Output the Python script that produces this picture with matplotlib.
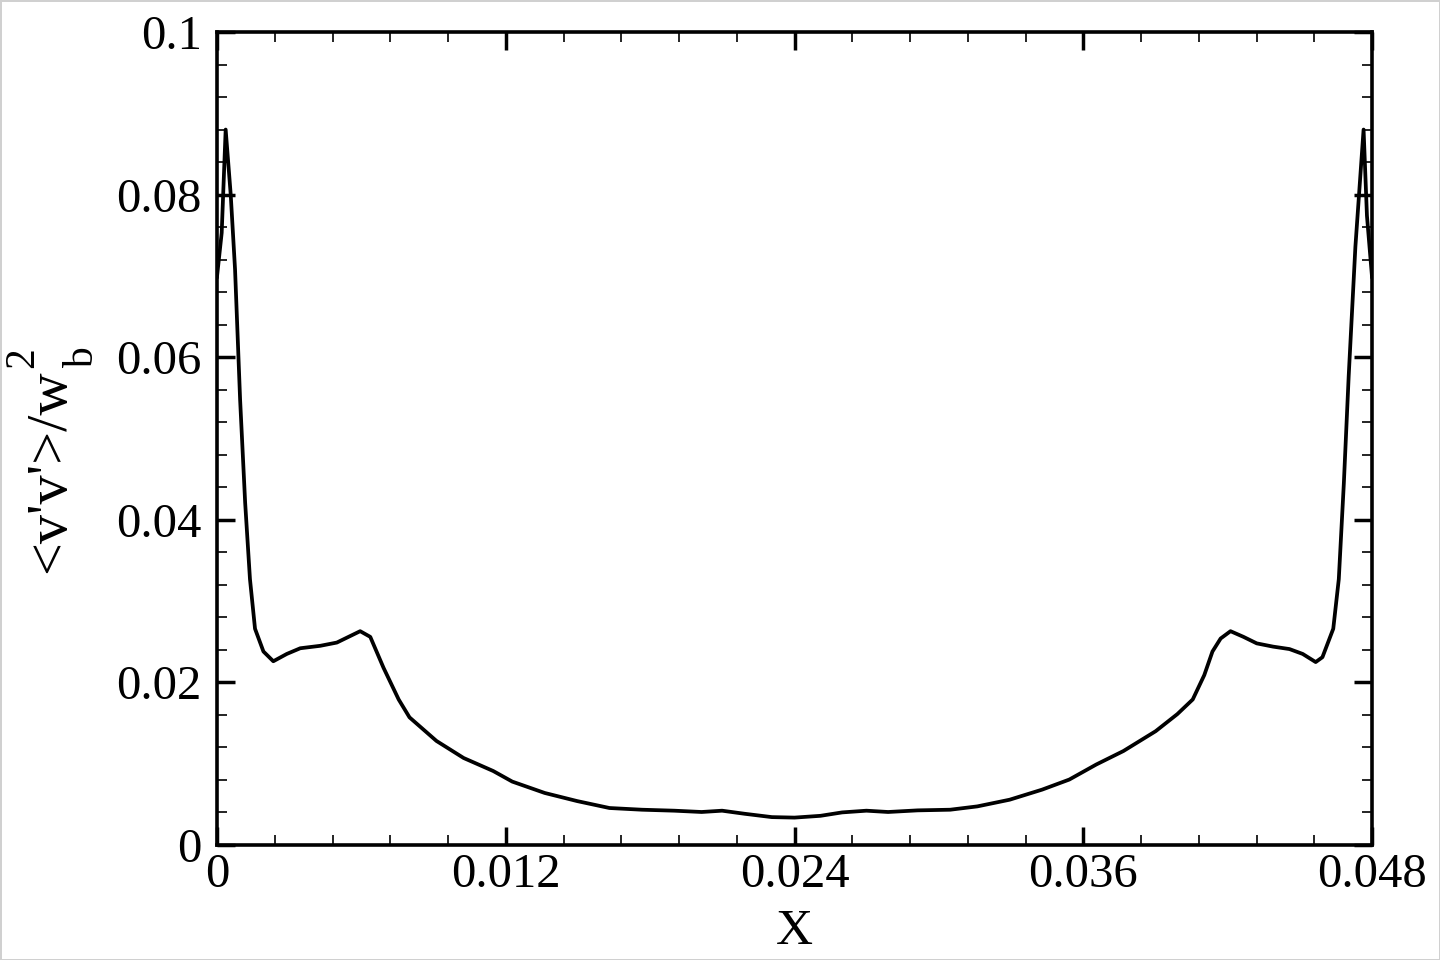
import matplotlib
matplotlib.use('Agg')
import matplotlib.pyplot as plt
from matplotlib.ticker import MultipleLocator

# ---- data ----
x_vals = [0.0, 0.000195, 0.00036, 0.00057, 0.00075, 0.00096, 0.00117, 0.00137,
          0.00158, 0.00193, 0.00234, 0.0029, 0.00346, 0.00429, 0.00498, 0.00595,
          0.00637, 0.00692, 0.00755, 0.008, 0.00912, 0.01025, 0.01148, 0.01227,
          0.01362, 0.01497, 0.01631, 0.01766, 0.01901, 0.02014, 0.02099, 0.02193,
          0.02306, 0.024, 0.02508, 0.02598, 0.02699, 0.02789, 0.02912, 0.03047,
          0.0316, 0.03294, 0.03429, 0.03542, 0.03654, 0.03767, 0.03901, 0.03991,
          0.04055, 0.04103, 0.04137, 0.04171, 0.04212, 0.04266, 0.04321, 0.04389,
          0.04457, 0.04512, 0.04566, 0.04594, 0.04639, 0.04662, 0.04683, 0.04703,
          0.04731, 0.04765, 0.04779, 0.048]
y_vals = [0.0699, 0.0753, 0.088, 0.080, 0.0708, 0.0548, 0.0421, 0.0327,
          0.0266, 0.0238, 0.0226, 0.0235, 0.0242, 0.0245, 0.0249, 0.0263,
          0.0256, 0.0218, 0.0179, 0.0157, 0.0128, 0.0107, 0.0091, 0.0078,
          0.0064, 0.0054, 0.00455, 0.00434, 0.00422, 0.00406, 0.00422, 0.00384,
          0.00343, 0.00337, 0.00359, 0.00401, 0.00422, 0.00406, 0.00426, 0.00434,
          0.00475, 0.00557, 0.00681, 0.00805, 0.0099, 0.01156, 0.0140, 0.0161,
          0.0179, 0.0209, 0.0238, 0.0254, 0.0263, 0.0256, 0.0248, 0.0244,
          0.0241, 0.0235, 0.0225, 0.0231, 0.0266, 0.0327, 0.0445, 0.0576,
          0.0736, 0.088, 0.0774, 0.0699]

x_ticks = [0.0, 0.012, 0.024, 0.036, 0.048]
x_tick_labels = ['0', '0.012', '0.024', '0.036', '0.048']
y_ticks = [0.0, 0.02, 0.04, 0.06, 0.08, 0.1]
y_tick_labels = ['0', '0.02', '0.04', '0.06', '0.08', '0.1']

x_label = 'X'
y_label_main = "<v'v'>/w"
y_label_sub = 'b'
y_label_sup = '2'

# ---- style ----
plt.rcParams['font.family'] = ['Liberation Serif', 'DejaVu Serif']

W, H = 1440, 960
fig = plt.figure(figsize=(W / 100, H / 100), dpi=100)
fig.patch.set_edgecolor('#d0d0d0')
fig.patch.set_linewidth(2)
ax = fig.add_axes([217 / W, (H - 845) / H, (1372 - 217) / W, (845 - 32) / H])

ax.plot(x_vals, y_vals, color='black', lw=2.7, solid_joinstyle='round')

ax.set_xlim(0, 0.048)
ax.set_ylim(0, 0.1)
ax.set_xticks(x_ticks)
ax.set_xticklabels(x_tick_labels)
ax.set_yticks(y_ticks)
ax.set_yticklabels(y_tick_labels)
ax.xaxis.set_minor_locator(MultipleLocator(0.0024))
ax.yaxis.set_minor_locator(MultipleLocator(0.004))
ax.tick_params(which='both', direction='in', top=True, right=True)
ax.tick_params(which='major', length=13, width=2.5, labelsize=35)
ax.tick_params(axis='y', which='major', pad=11)
ax.tick_params(axis='x', which='major', pad=6)
ax.tick_params(which='minor', length=7, width=1.2)
for s in ax.spines.values():
    s.set_linewidth(2.6)

ax.set_xlabel(x_label, fontsize=37, labelpad=8)

# y label built Tecplot-style: main text plus widely offset sub/superscript
main_fs = 42
small_fs = 30
base_x = 64      # pixel x of main baseline
start_y = 573    # pixel y (from top) where the label starts
t_main = fig.text(base_x / W, 1 - start_y / H, y_label_main, rotation=90,
                  rotation_mode='anchor', ha='left', va='baseline', fontsize=main_fs)
renderer = fig.canvas.get_renderer()
bb = t_main.get_window_extent(renderer)
end_y_fig = (bb.y1 + 1) / H
fig.text((base_x + 29) / W, end_y_fig, y_label_sub, rotation=90,
         rotation_mode='anchor', ha='left', va='baseline', fontsize=small_fs)
fig.text((base_x - 31) / W, end_y_fig, y_label_sup, rotation=90,
         rotation_mode='anchor', ha='left', va='baseline', fontsize=small_fs)

fig.savefig('out.png', dpi=100)
